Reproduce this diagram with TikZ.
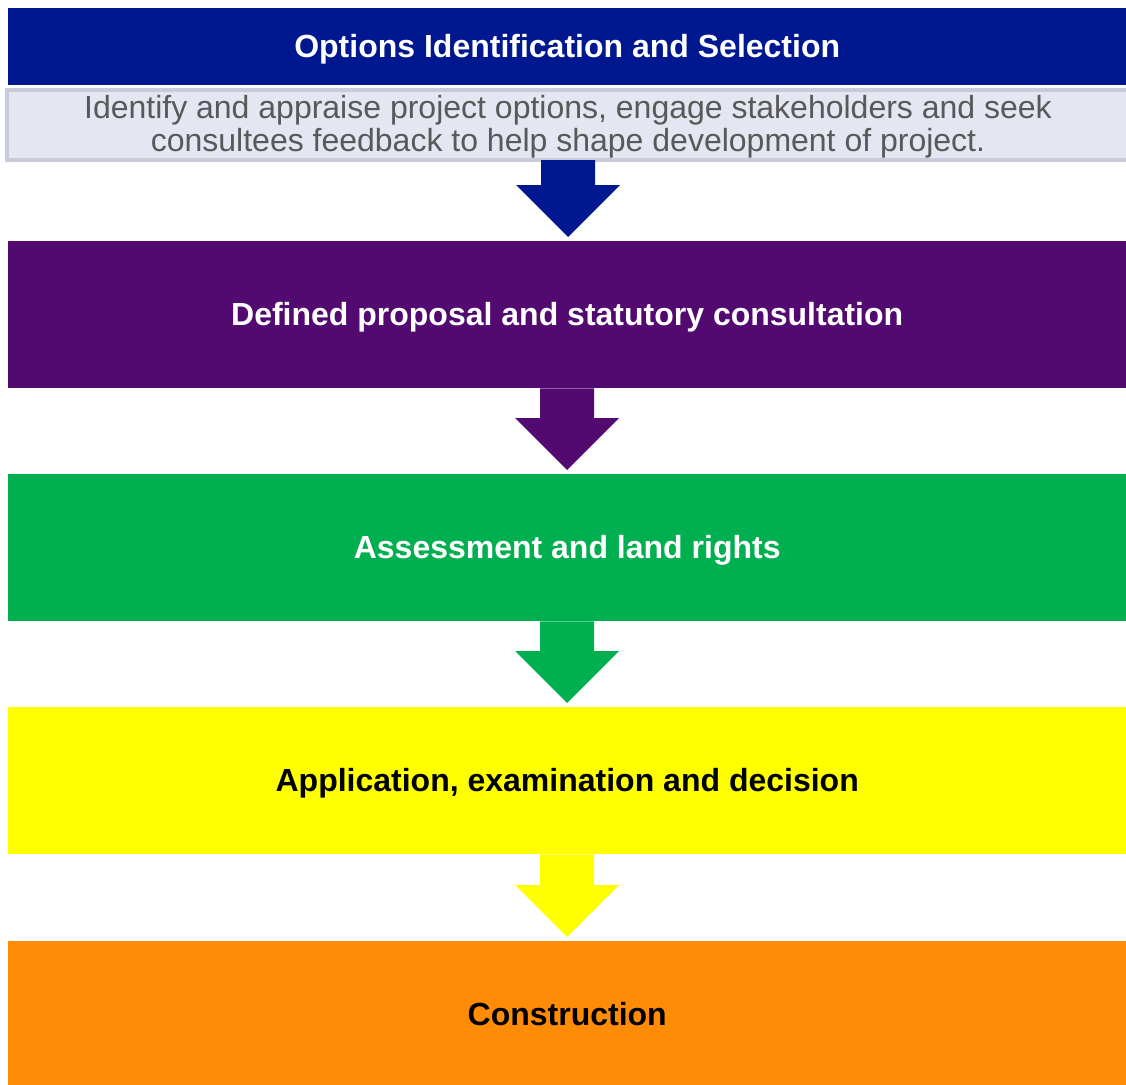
\documentclass[tikz,border=0pt]{standalone}
\usepackage{fontspec}
\setmainfont{Liberation Sans}
\usetikzlibrary{calc}
\definecolor{cblue}{HTML}{00188F}
\definecolor{cpurple}{HTML}{520A70}
\definecolor{cgreen}{HTML}{00B050}
\definecolor{cyellow}{HTML}{FFFF00}
\definecolor{corange}{HTML}{FF8C04}
\definecolor{cpale}{HTML}{E4E6F2}
\definecolor{cpaleedge}{HTML}{C9CBDA}
\definecolor{ctext}{HTML}{595959}
\tikzset{
  stage/.style={rectangle, inner sep=0pt, anchor=north west, minimum width=1118pt,
    minimum height=147pt, text height=21pt, text depth=0pt,
    font=\fontsize{32}{36}\selectfont\bfseries},
  flowarrow/.style={fill=#1, draw=none}
}
\newcommand{\stagearrow}[3]{%
  \fill[flowarrow=#3]
    ($(#1.south)+(-27,0)$) -- ($(#1.south)+(27,0)$) --
    ($(#2.north)+(27,-56)$) -- ($(#2.north)+(52,-56)$) --
    ($(#2.north)+(0,-4)$) --
    ($(#2.north)+(-52,-56)$) -- ($(#2.north)+(-27,-56)$) -- cycle;}
\begin{document}
\begin{tikzpicture}[x=1pt,y=-1pt]
\useasboundingbox (0,0) rectangle (1126,1084);
\clip (0,0) rectangle (1126,1084);
% header
\node[stage, fill=cblue, text=white, minimum height=77pt] (head) at (8,8)
  {Options Identification and Selection};
\node[rectangle, anchor=north west, inner sep=0pt, minimum width=1130pt, minimum height=70pt,
  fill=cpale, draw=cpaleedge, line width=4pt] (desc) at (5,88) {};
\node[text=ctext, inner sep=0pt, font=\fontsize{32}{33}\selectfont, align=center]
  (desctext) at (568,126.5)
  {Identify and appraise project options, engage stakeholders and seek\\
   consultees feedback to help shape development of project.};
\fill[cblue] (541,160) -- (595,160) -- (595,185) -- (620,185) -- (568,237) -- (516,185) -- (541,185) -- cycle;
\node[stage, fill=cpurple, text=white] (s2) at (8,241) {Defined proposal and statutory consultation};
\node[stage, fill=cgreen, text=white] (s3) at (8,474) {Assessment and land rights};
\node[stage, fill=cyellow, text=black] (s4) at (8,707) {Application, examination and decision};
\node[stage, fill=corange, text=black] (s5) at (8,941) {Construction};
\stagearrow{s2}{s3}{cpurple}
\stagearrow{s3}{s4}{cgreen}
\stagearrow{s4}{s5}{cyellow}
\end{tikzpicture}
\end{document}
